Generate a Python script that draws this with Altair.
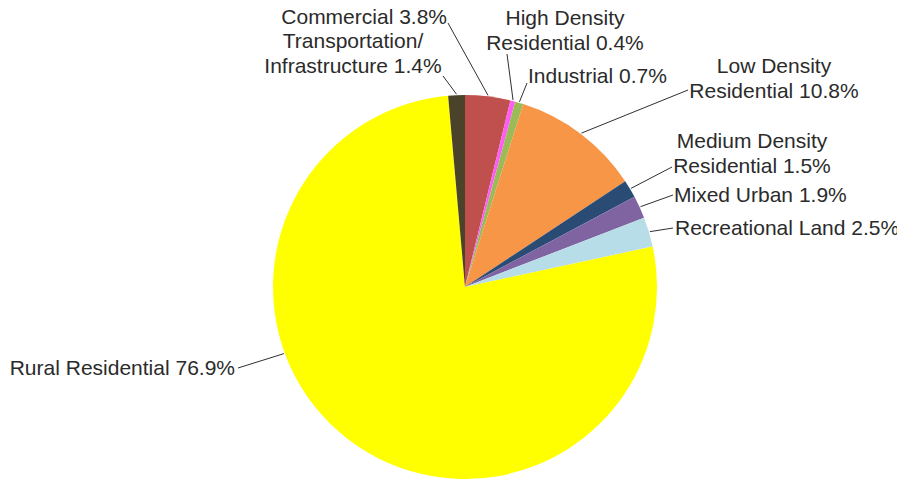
import math
import altair as alt
import pandas as pd

# ---- data ----
categories = ["Commercial", "High Density Residential", "Industrial",
              "Low Density Residential", "Medium Density Residential",
              "Mixed Urban", "Recreational Land", "Rural Residential",
              "Transportation/Infrastructure"]
values = [3.8, 0.4, 0.7, 10.8, 1.5, 1.9, 2.5, 76.9, 1.4]
label_texts = ["Commercial 3.8%", "High Density\nResidential 0.4%",
               "Industrial 0.7%", "Low Density\nResidential 10.8%",
               "Medium Density\nResidential 1.5%", "Mixed Urban 1.9%",
               "Recreational Land 2.5%", "Rural Residential 76.9%",
               "Transportation/\nInfrastructure 1.4%"]
colors = ["#c0504d", "#ff5cf5", "#9bbb59", "#f79646", "#294b74",
          "#8064a2", "#b7dee8", "#ffff00", "#4a4229"]

# ---- layout (chart pixel space) ----
W, H = 889, 472
CX, CY, R = 457, 279, 192
label_x = [439, 557, 520, 766, 744, 666, 667, 227, 345]
label_y = [16, 17, 75, 65, 140, 194, 227, 367, 40]
label_align = ["right", "center", "left", "center", "center", "left", "left", "right", "center"]
leader_end_x = [440, 499, 519, 680, 664, 665, 665, 230, 435]
leader_end_y = [15, 46, 75, 82, 159, 187, 220, 360, 68]
leader_angle_override = {"Rural Residential": 249.8}

total = sum(values)
rows = []
cum = 0.0
for i, (c, v) in enumerate(zip(categories, values)):
    mid = (cum + v / 2) / total * 360.0
    cum += v
    ang = leader_angle_override.get(c, mid)
    a = math.radians(ang)
    rows.append({
        "idx": i, "category": c, "value": v, "label": label_texts[i],
        "lx": label_x[i], "ly": label_y[i], "align": label_align[i],
        "sx": CX + (R + 1) * math.sin(a), "sy": CY - (R + 1) * math.cos(a),
        "ex": leader_end_x[i], "ey": leader_end_y[i],
    })
df = pd.DataFrame(rows)

base = alt.Chart(df)
xs = alt.Scale(domain=[0, W], range=[0, W], nice=False, zero=False)
ys = alt.Scale(domain=[0, H], range=[0, H], nice=False, zero=False)

pie = base.mark_arc(radius=R, stroke=None).encode(
    theta=alt.Theta("value:Q", stack=True),
    color=alt.Color("category:N", scale=alt.Scale(domain=categories, range=colors), legend=None),
    order=alt.Order("idx:Q", sort="ascending"),
    x=alt.value(CX), y=alt.value(CY),
)

leaders = base.mark_rule(color="#303030", strokeWidth=1).encode(
    x=alt.X("sx:Q", scale=xs, axis=None),
    y=alt.Y("sy:Q", scale=ys, axis=None),
    x2="ex:Q", y2="ey:Q",
)

texts = []
for al in ["left", "center", "right"]:
    texts.append(
        base.transform_filter(alt.datum.align == al).mark_text(
            align=al, baseline="alphabetic", font="Liberation Sans", fontSize=21,
            lineHeight=25, lineBreak="\n", color="#2b2b2b",
        ).encode(
            x=alt.X("lx:Q", scale=xs, axis=None),
            y=alt.Y("ly:Q", scale=ys, axis=None),
            text="label:N",
        )
    )

chart = alt.layer(pie, leaders, *texts).properties(
    width=W, height=H, padding=0,
    autosize=alt.AutoSizeParams(type="none"),
).configure_view(stroke=None)

chart.save("out.html", embed_options={"renderer": "svg", "actions": False})
